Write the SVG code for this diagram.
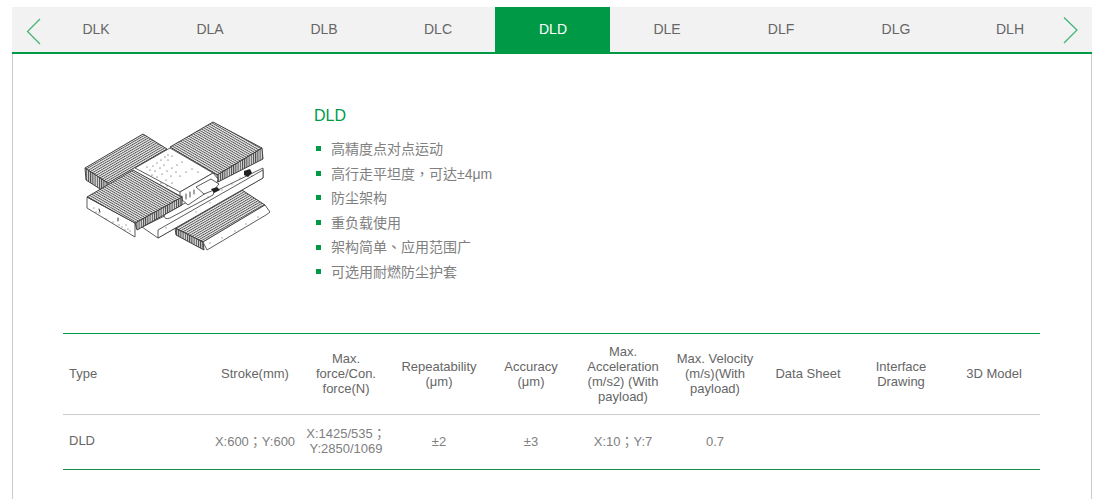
<svg xmlns="http://www.w3.org/2000/svg" width="1095" height="499" viewBox="0 0 1095 499">
<style>
text{font-family:"Liberation Sans","Noto Sans CJK TC",sans-serif;fill:#666}
.tab{font-size:14px;text-anchor:middle}
.f{font-size:14px;fill:#808080}
.th{font-size:13px;text-anchor:middle;fill:#666}
.td{font-size:13px;text-anchor:middle;fill:#808080}
.b{fill:#009a46}
.o{fill:#fff;stroke:#333;stroke-width:.8;stroke-linejoin:round}
.s{stroke:#333;stroke-width:.9;stroke-linejoin:round}
.d{fill:none;stroke:#333;stroke-width:1.200;stroke-linecap:round}
.k{fill:#222}
</style>
<defs>
<pattern id="sw" width="10" height="2.100" patternUnits="userSpaceOnUse" patternTransform="rotate(-30)"><rect width="10" height="2.100" fill="#eee"/><rect width="10" height=".9" fill="#555"/></pattern>
<pattern id="nw" width="10" height="2.100" patternUnits="userSpaceOnUse" patternTransform="rotate(30)"><rect width="10" height="2.100" fill="#eee"/><rect width="10" height=".9" fill="#555"/></pattern>
<pattern id="bar" width="2.200" height="10" patternUnits="userSpaceOnUse"><rect width="2.200" height="10" fill="#ddd"/><rect width="1" height="10" fill="#444"/></pattern>
</defs>
<rect width="1095" height="499" fill="#fff"/>
<g id="tabs">
<rect x="12" y="7" width="1080" height="45" fill="#f2f2f2"/>
<rect x="495" y="7" width="115" height="45" class="b"/>
<rect x="12" y="52" width="1080" height="2" class="b"/>
<path d="M12.500 54V499M1091.500 54V499" stroke="#ccc" fill="none"/>
<path d="M40 19L27.500 31.500 40 44M1064 17.500L1077 30 1064 43" fill="none" stroke="#3cb371" stroke-width="1.200"/>
<text class="tab" x="96" y="34">DLK</text>
<text class="tab" x="210" y="34">DLA</text>
<text class="tab" x="324" y="34">DLB</text>
<text class="tab" x="438" y="34">DLC</text>
<text class="tab" x="553" y="34" style="fill:#fff">DLD</text>
<text class="tab" x="667" y="34">DLE</text>
<text class="tab" x="781" y="34">DLF</text>
<text class="tab" x="896" y="34">DLG</text>
<text class="tab" x="1010" y="34">DLH</text>
</g>
<g id="illustration">
<polygon fill="url(#sw)" class="s" points="175,228 242,190 265,205 203,242"/>
<polygon fill="url(#bar)" class="s" points="175,228 203,242 204,250 176,235"/>
<polygon class="o" points="203,242 265,205 270,212 266,215 207,250"/>
<polygon class="o" points="142,227 263,168 263,178 158,238"/>
<polygon class="o" points="158,230 263,170 263,178 158,238"/>
<path class="o" d="M168 212L210 190Q214 189 214 192L213 195 170 218Q165 220 164 216 164 214 168 212Z"/>
<polygon fill="url(#bar)" class="s" points="85,168 108,183 108,194 86,180"/>
<polygon fill="url(#sw)" class="s" points="85,168 143,134 167,149 108,183"/>
<polygon fill="url(#bar)" class="s" points="217,175 262,148 263,159 218,182"/>
<polygon fill="url(#nw)" class="s" points="170,147 213,122 262,148 217,175"/>
<polygon class="o" points="135,168 170,148 213,173 180,192"/>
<path class="d" d="M147 167h0M150 170h0M153 166h0M157 163h0M161 160h0M165 157h0M168 155h0M172 156h0M168 160h0M164 165h0M160 168h0M155 171h0M152 175h0M157 177h0M162 174h0M167 171h0M172 168h0M177 165h0M182 162h0M176 172h0M171 176h0M166 180h0M161 183h0M167 186h0M172 183h0M180 176h0M186 172h0M192 169h0M198 172h0"/>
<polygon class="o" points="180,192 213,173 218,179 216,186 188,205 180,198"/>
<path class="o" d="M196 187L211 179 219 184 214 190 204 194Z"/>
<path class="k" d="M211 189l6-2 3 3-6 3ZM244 171l6-2 2 4-4 4-4-2Z"/>
<path class="d" style="stroke-width:.9" d="M182 196v5M186 194v5M190 192v5M194 190v4M208 197h0M222 190h0M232 184h0M240 178h0M252 176h0M166 228h0M196 212h0M210 203h0"/>
<polygon class="o" points="87,197 135,223 135,237 87,208"/>
<polygon fill="url(#bar)" class="s" points="135,223 182,197 182,205 137,230"/>
<polygon fill="url(#nw)" class="s" points="87,197 133,170 182,197 135,223"/>
<path class="d" style="stroke-width:1" d="M94 208h0M96 212h0M99 213h0M99 209l1 3M106 219h0M113 222h0M118 218v3M119 225h0M122 227h0M126 225h0M128 229h0M125 230h0M130 231h0M210 243h0M222 238h0M235 231h0M246 224h0M258 217h0"/>
</g>
<g id="info">
<text x="314" y="121" style="font-size:16px;fill:#009a46">DLD</text>
<rect class="b" x="316" y="146" width="5" height="5"/>
<rect class="b" x="316" y="171" width="5" height="5"/>
<rect class="b" x="316" y="195" width="5" height="5"/>
<rect class="b" x="316" y="220" width="5" height="5"/>
<rect class="b" x="316" y="245" width="5" height="5"/>
<rect class="b" x="316" y="269" width="5" height="5"/>
<text class="f" x="331" y="154">高精度点对点运动</text>
<text class="f" x="331" y="179">高行走平坦度，可达±4μm</text>
<text class="f" x="331" y="203">防尘架构</text>
<text class="f" x="331" y="228">重负载使用</text>
<text class="f" x="331" y="252">架构简单、应用范围广</text>
<text class="f" x="331" y="277">可选用耐燃防尘护套</text>
</g>
<g id="table">
<path d="M63 333.500H1040" stroke="#009a46" fill="none"/>
<path d="M63 469.500H1040" stroke="#178c4c" fill="none"/>
<path d="M63 414.500H1040" stroke="#ccc" fill="none"/>
<text x="69" y="378" style="font-size:13px">Type</text>
<text class="th" x="255" y="378">Stroke(mm)</text>
<text class="th" x="346" y="363">Max.</text>
<text class="th" x="346" y="378">force/Con.</text>
<text class="th" x="346" y="393">force(N)</text>
<text class="th" x="439" y="371">Repeatability</text>
<text class="th" x="439" y="386">(μm)</text>
<text class="th" x="531" y="371">Accuracy</text>
<text class="th" x="531" y="386">(μm)</text>
<text class="th" x="623" y="356">Max.</text>
<text class="th" x="623" y="371">Acceleration</text>
<text class="th" x="623" y="386">(m/s2) (With</text>
<text class="th" x="623" y="401">payload)</text>
<text class="th" x="715" y="363">Max. Velocity</text>
<text class="th" x="715" y="378">(m/s)(With</text>
<text class="th" x="715" y="393">payload)</text>
<text class="th" x="808" y="378">Data Sheet</text>
<text class="th" x="901" y="371">Interface</text>
<text class="th" x="901" y="386">Drawing</text>
<text class="th" x="994" y="378">3D Model</text>
<text x="69" y="445" style="font-size:13px">DLD</text>
<text class="td" x="255" y="446">X:600；Y:600</text>
<text class="td" x="346" y="438">X:1425/535；</text>
<text class="td" x="346" y="453"> Y:2850/1069</text>
<text class="td" x="439" y="446">±2</text>
<text class="td" x="531" y="446">±3</text>
<text class="td" x="623" y="446">X:10；Y:7</text>
<text class="td" x="715" y="446">0.7</text>
</g>
</svg>
